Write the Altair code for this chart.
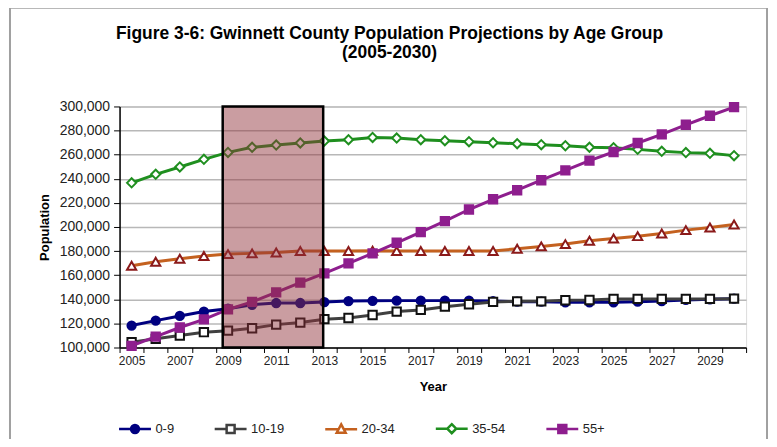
import altair as alt
import pandas as pd

years = list(range(2005, 2031))
age_groups = ["0-9", "10-19", "20-34", "35-54", "55+"]

pop_0_9 = [118.2, 122.3, 126.2, 129.8, 132.2, 135.5, 136.9, 136.9, 137.7, 138.5, 138.7, 138.9, 138.9,
           138.9, 138.9, 138.5, 138.0, 138.0, 137.5, 137.5, 137.5, 138.0, 138.5, 139.5, 140.0, 140.5]
pop_10_19 = [104.4, 107.2, 109.9, 112.7, 114.0, 116.0, 119.0, 120.7, 123.5, 124.5, 127.0, 129.8, 131.2,
             133.9, 135.9, 137.8, 138.3, 138.3, 139.2, 139.4, 140.3, 140.3, 140.3, 140.3, 140.3, 140.5]
pop_20_34 = [167.9, 171.2, 173.7, 175.9, 177.5, 178.1, 178.9, 180.0, 180.0, 180.0, 180.3, 180.0, 180.0,
             180.0, 180.0, 180.0, 182.0, 183.9, 185.8, 188.6, 190.5, 192.4, 194.6, 197.4, 199.6, 202.1]
pop_35_54 = [236.6, 243.7, 249.8, 256.1, 261.9, 266.1, 268.0, 269.7, 271.3, 272.4, 274.3, 273.8, 272.4,
             271.6, 270.8, 269.9, 269.1, 268.3, 267.4, 266.1, 265.8, 264.4, 262.8, 261.7, 261.1, 259.2]
pop_55_plus = [101.4, 109.1, 116.6, 123.4, 131.7, 137.8, 145.8, 153.8, 161.5, 169.8, 178.1, 186.9, 195.7,
               204.8, 214.5, 223.0, 230.5, 238.8, 247.0, 255.0, 262.2, 269.7, 276.8, 284.8, 292.3, 299.4]

title_lines = ["Figure 3-6: Gwinnett County Population Projections by Age Group", "(2005-2030)"]

highlight_start = [2008.78]
highlight_end = [2012.95]

y_ticks = list(range(100000, 300001, 20000))
x_ticks = [2004.5 + i for i in range(27)]

series_values = [pop_0_9, pop_10_19, pop_20_34, pop_35_54, pop_55_plus]
line_colors = ["#000080", "#404040", "#c4611f", "#1f8f1f", "#8e1e8e"]
marker_shapes = ["circle", "square", "triangle-up", "diamond", "square"]
marker_fills = ["#000080", "white", "white", "white", "#8e1e8e"]
marker_strokes = ["#000080", "#111111", "#8b1a1a", "#1f8f1f", "#8e1e8e"]
marker_sizes = [70, 70, 85, 85, 70]

legend_paths = [
    "M-1,0L-0.25,0M0.25,0L1,0M-0.25,0A0.25,0.25 0 1 1 0.25,0A0.25,0.25 0 1 1 -0.25,0Z",
    "M-1,0L-0.25,0M0.25,0L1,0M-0.25,-0.25H0.25V0.25H-0.25Z",
    "M-1,0L-0.2,0M0.2,0L1,0M0,-0.3L0.28,0.22L-0.28,0.22Z",
    "M-1,0L-0.28,0M0.28,0L1,0M0,-0.28L0.28,0L0,0.28L-0.28,0Z",
    "M-1,0L-0.25,0M0.25,0L1,0M-0.25,-0.25H0.25V0.25H-0.25Z",
]

rows = []
for g, vals in zip(age_groups, series_values):
    for yr, v in zip(years, vals):
        rows.append({"year": yr, "pop": v * 1000, "age": g})
df = pd.DataFrame(rows)

FONT = "Liberation Sans"

x_scale = alt.Scale(domain=[2004.5, 2030.5], nice=False, zero=False)
y_scale = alt.Scale(domain=[100000, 300000], nice=False, zero=False)

x_axis = alt.Axis(
    title="Year", values=x_ticks,
    labelExpr="datum.value < 2030 && (datum.value + 0.5) % 2 == 1 ? format(datum.value + 0.5, 'd') : ''",
    labelOffset=12.1, labelOverlap=False, labelFlush=False, labelBound=False,
    grid=False, tickSize=5, tickColor="black", domainColor="black", domainWidth=1.5,
    labelFontSize=12, labelColor="#222222", labelPadding=3, labelFont=FONT,
    titleFontSize=13, titleFontWeight="bold", titleFont=FONT, titlePadding=14, titleColor="black",
)
y_axis = alt.Axis(
    title="Population", values=y_ticks, format=",d", labelOverlap=False, labelFlush=False, labelBound=False,
    grid=True, gridColor="#b8b8b8", gridWidth=1.5,
    tickSize=6, tickColor="black", domainColor="black", domainWidth=1.5,
    labelFontSize=14, labelColor="#222222", labelPadding=4, labelFont=FONT,
    titleFontSize=13, titleFontWeight="bold", titleFont=FONT, titlePadding=8, titleColor="black",
)

x_enc = alt.X("year:Q", scale=x_scale, axis=x_axis)
y_enc = alt.Y("pop:Q", scale=y_scale, axis=y_axis)

base = alt.Chart(df)
layers = []
for i, g in enumerate(age_groups):
    sub = base.transform_filter(alt.datum.age == g)
    layers.append(sub.mark_line(color=line_colors[i], strokeWidth=3).encode(x=x_enc, y=y_enc))
    layers.append(sub.mark_point(shape=marker_shapes[i], filled=True, fill=marker_fills[i],
                                 stroke=marker_strokes[i], strokeWidth=2, size=marker_sizes[i],
                                 opacity=1).encode(x=x_enc, y=y_enc))

hl = pd.DataFrame({"x1": highlight_start, "x2": highlight_end, "y1": [100000], "y2": [300000]})
rect = alt.Chart(hl).mark_rect(fill="#91333a", fillOpacity=0.48, stroke="black", strokeWidth=2.5).encode(
    x=alt.X("x1:Q", scale=x_scale, axis=x_axis), x2="x2:Q",
    y=alt.Y("y1:Q", scale=y_scale, axis=y_axis), y2="y2:Q")
layers.append(rect)

legend_layer = base.transform_filter("false").mark_point(filled=True, opacity=1, strokeWidth=2.5, size=1024).encode(
    shape=alt.Shape("age:N", scale=alt.Scale(domain=age_groups, range=legend_paths),
                    legend=alt.Legend(title=None, orient="none", legendX=-2, legendY=306,
                                      direction="horizontal", columns=5, columnPadding=35,
                                      symbolSize=1024, symbolStrokeWidth=2.5, labelOffset=3,
                                      labelFontSize=13, labelFont=FONT, labelColor="#222222")),
    fill=alt.Fill("age:N", scale=alt.Scale(domain=age_groups, range=marker_fills)),
    stroke=alt.Stroke("age:N", scale=alt.Scale(domain=age_groups, range=line_colors)),
)
layers.append(legend_layer)

tdf = pd.DataFrame({"line": title_lines})
title_layers = [
    alt.Chart(tdf).transform_filter(alt.datum.line == title_lines[0]).mark_text(
        font=FONT, fontSize=17.5, fontWeight="bold", color="black", align="center", baseline="middle"
    ).encode(text="line:N", x=alt.value(271), y=alt.value(-73)),
    alt.Chart(tdf).transform_filter(alt.datum.line == title_lines[1]).mark_text(
        font=FONT, fontSize=17.5, fontWeight="bold", color="black", align="center", baseline="middle"
    ).encode(text="line:N", x=alt.value(271), y=alt.value(-54)),
]

frame_color = "#a0a0a0"
frame = [
    alt.Chart(hl).mark_rule(color=frame_color, strokeWidth=2).encode(x=alt.value(-110), y=alt.value(-99), y2=alt.value(345)),
    alt.Chart(hl).mark_rule(color=frame_color, strokeWidth=2).encode(x=alt.value(650), y=alt.value(-99), y2=alt.value(345)),
    alt.Chart(hl).mark_rule(color=frame_color, strokeWidth=2).encode(x=alt.value(-110), x2=alt.value(650), y=alt.value(-99)),
]

chart = alt.layer(*layers, *title_layers, *frame).properties(
    width=629, height=242,
    autosize=alt.AutoSizeParams(type="none"),
    padding={"left": 112, "top": 98, "right": 23, "bottom": 91},
).configure_view(stroke="black", strokeWidth=1.5).configure_axis(labelOverlap=False).configure(background="white")

chart.save("out.html", embed_options={"renderer": "svg", "actions": False})
